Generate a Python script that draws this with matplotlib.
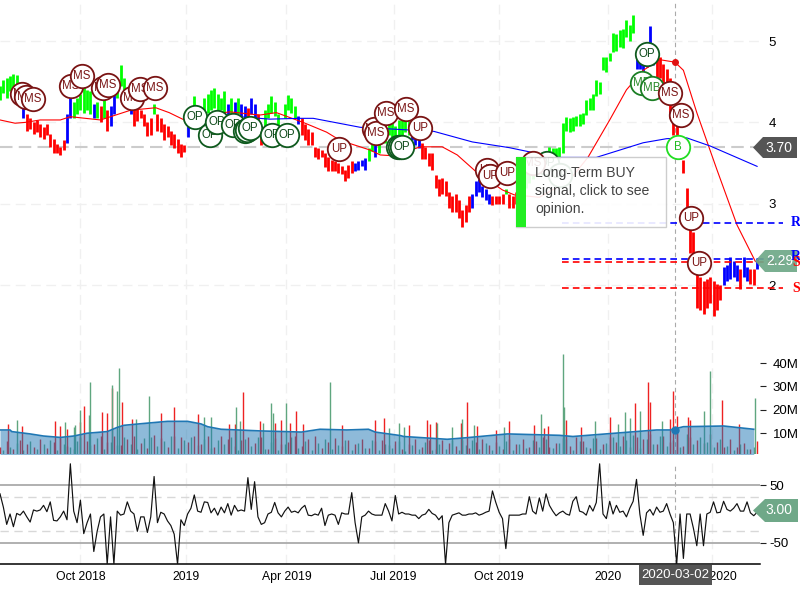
import numpy as np
import matplotlib
matplotlib.use("Agg")
import matplotlib.pyplot as plt
from matplotlib.patches import Polygon, Rectangle

plt.rcParams["font.family"] = ["Liberation Sans", "DejaVu Sans"]
plt.rcParams["axes.unicode_minus"] = False

# one price bar every 2 trading days
price_lo = [4.28,4.36,4.30,4.38,4.40,4.35,4.22,4.05,3.90,3.92,3.86,3.88,3.82,3.80,3.84,3.70,3.62,3.62,3.60,3.66,
3.75,4.05,4.05,4.10,4.15,4.12,4.15,4.10,4.05,4.05,4.00,4.05,3.90,3.95,4.10,4.30,4.45,4.40,4.30,4.10,
3.95,4.02,4.05,3.95,3.83,3.85,4.10,3.90,3.88,3.78,3.82,3.72,3.68,3.62,3.58,3.64,3.82,4.00,4.12,4.05,
4.05,4.10,4.12,4.15,4.18,4.15,4.15,4.12,4.05,4.10,4.05,4.10,4.05,4.05,3.98,4.10,4.05,3.88,3.72,3.95,
4.05,4.12,4.08,3.85,3.72,4.05,4.15,4.12,4.05,3.98,3.85,3.78,3.72,3.72,3.57,3.55,3.58,3.45,3.40,3.40,
3.40,3.38,3.36,3.28,3.32,3.38,3.40,3.42,3.46,3.42,3.52,3.65,3.58,3.62,3.78,3.75,3.85,3.82,3.80,3.85,
3.85,3.88,3.85,3.78,3.72,3.68,3.55,3.55,3.47,3.42,3.20,3.10,3.12,3.10,2.95,2.90,2.90,2.82,2.72,2.78,
2.90,2.95,3.10,3.15,3.08,3.05,3.00,2.98,3.00,3.00,3.00,3.12,2.95,2.95,3.00,3.05,3.10,3.20,3.25,3.30,
3.35,3.40,3.45,3.50,3.55,3.50,3.55,3.55,3.62,3.90,3.88,3.90,3.95,3.95,3.98,4.09,4.15,4.15,4.32,4.35,
4.64,4.62,4.75,4.86,4.88,4.93,4.92,5.05,5.00,5.10,4.65,4.65,4.62,4.68,4.70,4.70,4.55,4.55,4.45,4.35,
4.05,3.85,3.70,3.55,3.38,2.75,2.40,2.15,1.72,1.70,1.65,1.72,1.78,1.62,1.70,1.82,2.00,2.05,2.08,2.10,
2.05,1.95,2.10,2.05,2.02,2.00,2.20]
price_hi = [4.45,4.52,4.55,4.57,4.60,4.58,4.50,4.25,4.10,4.05,4.00,4.03,3.98,3.94,3.98,3.86,3.80,3.74,3.70,3.78,
4.10,4.30,4.25,4.30,4.35,4.45,4.40,4.38,4.22,4.25,4.20,4.30,4.15,4.20,4.35,4.50,4.70,4.55,4.42,4.22,
4.20,4.18,4.15,4.10,4.00,4.05,4.22,4.10,4.05,3.98,3.96,3.90,3.86,3.80,3.74,3.72,4.02,4.15,4.32,4.20,
4.18,4.30,4.35,4.40,4.42,4.35,4.30,4.38,4.22,4.30,4.25,4.30,4.22,4.20,4.18,4.30,4.22,4.10,3.95,4.15,
4.22,4.32,4.25,4.10,3.95,4.22,4.34,4.30,4.20,4.08,4.05,3.98,3.92,3.88,3.70,3.68,3.66,3.62,3.58,3.54,
3.52,3.50,3.46,3.42,3.48,3.52,3.50,3.52,3.54,3.56,3.68,3.80,3.72,3.78,3.92,3.92,4.02,4.00,3.95,4.03,
4.05,4.05,4.02,3.95,3.85,3.80,3.75,3.70,3.63,3.62,3.35,3.30,3.32,3.28,3.15,3.10,3.12,3.05,2.92,2.98,
3.10,3.12,3.28,3.30,3.22,3.18,3.12,3.10,3.10,3.10,3.12,3.18,3.12,3.10,3.15,3.20,3.30,3.40,3.45,3.50,
3.52,3.58,3.60,3.65,3.70,3.68,3.68,3.70,3.99,4.07,4.05,4.07,4.08,4.10,4.12,4.27,4.30,4.35,4.52,4.50,
4.80,4.80,4.85,5.10,5.08,5.13,5.15,5.26,5.20,5.32,4.85,4.85,4.82,4.90,5.18,4.90,4.85,4.80,4.72,4.65,
4.55,4.20,4.05,3.80,3.54,3.20,2.85,2.65,2.30,2.10,2.05,2.08,2.10,2.05,2.02,2.00,2.22,2.25,2.35,2.30,
2.25,2.20,2.35,2.22,2.20,2.20,2.34]
trend_runs = [("g",7),("b",1),("r",12),("b",2),("g",6),("b",1),("g",1),("r",1),("g",1),("r",1),("b",2),("g",4),("b",1),
("r",6),("g",1),("r",9),("b",1),("g",11),("b",1),("g",1),("b",1),("g",1),("b",2),("r",1),("b",2),("r",2),("g",5),("r",1),
("g",4),("b",1),("r",16),("b",4),("g",2),("b",1),("g",10),("b",3),("r",15),("b",6),("r",4),("g",1),("r",3),("g",35),
("b",6),("r",20),("b",5),("r",1),("b",2),("r",2),("b",1)]

sma50_bar = [0,9,15,24,36,42,60,78,93,101,110,119,137,155,165,181,195,203,221,227,235,251,264,273,285,300,307,322,340,351,364,374,384,394,403,408,416,428,440,451]
sma50 = [4.03,3.99,4.00,4.03,4.03,4.07,4.03,4.15,4.18,4.12,4.03,4.07,4.13,4.09,4.12,4.00,3.88,3.78,3.66,3.60,3.59,3.70,3.70,3.60,3.38,3.17,3.11,3.08,3.29,3.57,4.03,4.40,4.64,4.77,4.74,4.64,4.12,3.42,2.74,2.29]
sma200_bar = [143,161,179,187,215,259,282,304,332,356,384,398,410,424,452]
sma200 = [4.07,4.04,4.05,4.05,3.94,3.89,3.76,3.69,3.57,3.57,3.75,3.80,3.81,3.71,3.46]

ms_bar = [13.1,15.5,19.7,42.4,49,61.5,64.5,78.8,83.6,92.5,223.3,224.5,230.4,242.4,318.2,400,406.6]
ms_price = [4.35,4.31,4.29,4.45,4.57,4.42,4.46,4.30,4.41,4.42,3.92,3.87,4.12,4.16,3.50,4.36,4.09]
op_bar = [116.4,125.4,129.6,139,146.3,147.5,149.3,162.4,171.3,237.6,238.8,240,326.6,334.3,386.3]
op_price = [4.07,3.85,4.00,3.97,3.89,3.91,3.93,3.85,3.85,3.70,3.70,3.70,3.50,3.35,4.84]
up_bar = [202.4,250.7,290.7,292.5,302.7,412.5,417.3]
up_price = [3.67,3.93,3.42,3.34,3.38,2.83,2.27]
mb_bar = [383.3,389.3]
mb_price = [4.48,4.42]
b_bar = [404.8]
b_price = [3.70]

resist = [2.76,2.32]
support = [2.29,1.97]

# volume, millions
vol_red_bar = [5,13,33,36,40,48,50,61,64,67,73,79,96,104,118,137,140,145,155,164,168,173,177,181,204,224,229,244,255,257,260,275,279,285,296,304,319,325,327,338,347,364,379,387,388,400,402,404,411,412,431,441]
vol_red = [13.8,13.2,15,13,11.8,14.8,21.6,19,18.5,29.4,23.5,15.8,18.5,21,18,14,14,27.6,15,14.5,15.5,14.5,19.5,14,13.5,15.5,16.5,13.5,15.5,14,14.8,14.5,23.3,12.8,11.5,15,13.5,12,13,15.5,12.5,17,23,32,23.5,16,28,17.5,17,15.5,24,14]
vol_green_bar = [10,39,44,45,48,53,54,67,70,71,81,89,122,126,141,143,157,162,163,171,197,232,238,241,261,270,276,283,301,323,336,337,355,369,373,376,382,395,420,424,451]
vol_green = [15.6,14.7,12.6,13.3,19.9,17.7,32,30.7,28,37.7,16,25.8,17,17,21,15,14.5,23,18.5,23,32,12,14.5,12.5,14.3,12.5,16,13.5,12.5,18,43.7,21,15,14,19,16.5,19.5,15,19.5,36.6,25]
low_red = [4.2,6.5,3.1,7.2,5.3,4.1,7.3,3.5,6.1,7.8,4.5,3.2,8.1,6.4,5.2,8.5,6.1,8.9,4.7,7.4,8.5,5.5,3.6,9.1,7.8,4.2,8.5,8.3,6.2,8.8,5.4,8.7,3.8,8.6,7.5,4.4,6.8,8.2,5.6,8.1,
3.2,7.9,5.1,6.3,8.8,4.3,7.4,8.6,3.5,6.2,7.8,4.6,7.1,5.2,7.3,3.6,6.4,7.2,4.8,6.5,3.3,5.4,7.6,4.1,6.8,3.2,7.1,5.5,4.3,7.2,3.6,6.1,7.4,4.9,6.2,3.2,7.5,5.1,7.6,4.2,
6.7,8.1,3.8,5.9,7.7,4.5,8.2,6.4,3.5,7.8,5.3,8.4,6.2,8.7,4.1,8.2,7.4,9.6,5.2,8.8,6.1,9.9,4.6,8.3,7.2,5.5,9.4,6.3,3.8,7.5,4.2,5.8,3.2,6.6]
low_green = [2.5,4.1,5.8,2.9,6.6,3.3,5.1,7.2,2.6,5.4,3.9,6.7,2.8,4.9,7.8,3.2,6.1,4.7,8.2,5.3,3.1,7.9,8.2,4.4,6.5,8.7,3.6,7.1,8.4,4.8,7.6,3.4,6.9,5.2,8.1,2.8,7.4,4.6,8.2,3.1,
6.2,2.7,5.3,8.1,3.4,6.5,2.9,5.7,7.3,3.2,4.9,6.8,2.6,5.5,3.7,7.1,2.8,5.2,3.6,6.4,2.4,4.8,3.1,6.2,2.7,5.4,3.3,6.9,2.5,4.7,7.2,3.1,5.6,2.8,4.3,6.7,2.9,5.1,3.4,6.8,
4.2,7.6,3.5,5.9,7.3,2.8,6.4,4.1,7.7,3.2,5.7,8.1,4.3,6.9,9.2,3.6,7.4,5.2,8.8,4.5,7.1,3.8,9.6,5.4,8.2,6.1,3.9,7.5,4.6,2.9,5.3,3.2,4.1]
avg_vol_bar = [0,6,7,18,26,36,44,52,64,70,74,86,100,112,120,124,132,155,180,191,207,220,224,239,241,267,279,303,334,342,392,400,408,432,450]
avg_vol = [11.3,11.3,10.6,9.6,8.7,8.1,8.7,9.9,10.6,12.4,13.3,14.1,15.0,15.0,13.9,12.7,11.6,10.9,10.4,11.6,11.3,11.6,10.4,8.9,8.5,7.3,8.0,9.6,9.0,8.5,11.3,11.3,12.7,13.0,11.6]

# cci, one point every 2 trading days
cci = [35,12,-18,0,-22,1,-2,5,-5,-14,7,5,7,15,4,21,-11,-12,-5,5,
-10,87,5,-15,24,-34,-15,0,-65,-30,-5,0,-87,-5,-87,5,-2,0,21,5,
0,-30,-5,-5,-32,-5,65,-15,3,0,-12,-20,-35,-87,-10,-20,0,10,33,5,
3,21,20,2,10,-2,12,2,18,-2,15,5,7,5,63,8,56,-5,-18,-15,
0,3,20,2,-5,5,12,3,5,2,10,15,-2,-3,0,-2,10,-20,-2,0,
-2,-18,2,0,0,37,-15,-50,-5,-2,5,0,-2,-2,-2,18,5,-12,32,0,
3,0,0,-2,-2,-8,-2,0,8,1,-2,-10,-3,-87,-15,-2,0,2,-2,-2,
0,0,2,-2,0,3,5,40,20,3,-8,-60,-2,-2,-2,-2,0,0,30,5,
0,28,5,35,15,5,-3,2,5,0,-2,22,30,5,3,-2,15,5,20,87,
0,-8,22,0,15,3,5,-5,10,22,60,0,-37,2,8,-2,12,3,5,18,
0,-15,-87,0,-77,0,0,-25,-55,0,-55,0,3,21,2,3,22,8,5,10,
18,5,5,21,2,-3,3]

tick_bars = [48,111,171,235,298,363,425]
tick_labels = ["Oct 2018","2019","Apr 2019","Jul 2019","Oct 2019","2020","Apr 2020"]
cursor_bar = 403

fig = plt.figure(figsize=(8,6),dpi=100)
def panel(top,bottom,right=760):
    return fig.add_axes([0,1-bottom/600,right/800,(bottom-top)/600])
ax = panel(0,350)
axv = panel(350,454)
axc = panel(463,564)
over = fig.add_axes([0,0,1,1])
over.set_xlim(0,800)
over.set_ylim(600,0)
over.axis("off")
over.patch.set_alpha(0)

xmax = 760/1.675
for a in [ax,axv,axc]:
    a.set_xlim(0,xmax)
    a.set_xticks(tick_bars)
    a.grid(True,axis="x",color="#f0f0f0",lw=1,ls=(0,(7,4)))
    a.set_axisbelow(True)
    a.yaxis.tick_right()
    for s in a.spines.values():
        s.set_visible(False)
    a.axvline(cursor_bar,color="#aaaaaa",lw=0.8,ls=(0,(4,3)),zorder=1.5)
    a.tick_params(axis="x",length=0,labelbottom=False)

# price panel
ax.set_ylim(5-(350-41)/81.4,5+41/81.4)
ax.set_yticks([2,3,4,5])
ax.tick_params(axis="y",length=0,pad=6,labelsize=9.5)
ax.grid(True,axis="y",color="#f0f0f0",lw=1,ls=(0,(7,4)))
ax.axhline(3.70,color="#cccccc",lw=1.5,ls=(0,(6,3)),zorder=1.2)

trend = np.repeat([r[0] for r in trend_runs],[r[1] for r in trend_runs])
bar_x = np.arange(len(price_lo))*2
colors = {"g":"#00ff00","r":"#ff0000","b":"#0000ff"}
for k,c in colors.items():
    m = trend==k
    ax.vlines(bar_x[m],np.array(price_lo)[m],np.array(price_hi)[m],color=c,lw=2.0,zorder=2)
ax.plot(sma50_bar,sma50,color="#ff0000",lw=0.8,zorder=3)
ax.plot(sma200_bar,sma200,color="#0000ff",lw=0.8,zorder=3)
ax.plot([cursor_bar],[4.74],"o",color="#e01010",ms=4,zorder=3)

for v in resist:
    ax.plot([335.5,467.5],[v,v],color="#0000ff",lw=1.2,ls=(0,(4,2.5)),clip_on=False,zorder=3)
for v in support:
    ax.plot([335.5,467.5],[v,v],color="#ff0000",lw=1.2,ls=(0,(4,2.5)),clip_on=False,zorder=3)

def signals(xs,ys,label,edge,txt,z=4):
    for i,(x,y) in enumerate(zip(xs,ys)):
        ax.scatter([x],[y],s=285,facecolor="white",edgecolor=edge,lw=1.3,zorder=z+i*0.01)
        ax.text(x,y,label,color=txt,fontsize=8.3,ha="center",va="center",zorder=z+i*0.01+0.005)
signals(op_bar,op_price,"OP","#0f5a1e","#0f4a1a",4)
signals(ms_bar,ms_price,"MS","#7a1414","#7a1414",5)
signals(up_bar,up_price,"UP","#7a1414","#7a1414",6)
signals(mb_bar,mb_price,"MB","#1b7f24","#2a8a2a",4.5)
signals(b_bar,b_price,"B","#22dd22","#22bb22",6.5)

# volume panel
axv.set_ylim((456.3-454)/2.33,(456.3-350)/2.33)
axv.set_yticks([10,20,30,40])
axv.set_yticklabels(["10M","20M","30M","40M"])
axv.tick_params(axis="y",length=4,pad=5,labelsize=9.5,color="#222222")
low_red_x = np.arange(len(low_red))*4
low_green_x = np.arange(len(low_green))*4+2
axv.vlines(low_red_x,0,low_red,color="#ee2222",lw=1,zorder=2)
axv.vlines(low_green_x,0,low_green,color="#5fa67f",lw=1,zorder=2)
axv.vlines(vol_red_bar,0,vol_red,color="#ee2222",lw=1,zorder=2)
axv.vlines(vol_green_bar,0,vol_green,color="#5fa67f",lw=1,zorder=2)
axv.fill_between(avg_vol_bar,0,avg_vol,color="#1f77b4",alpha=0.5,lw=0,zorder=3)
axv.plot(avg_vol_bar,avg_vol,color="#1f77b4",lw=1.2,zorder=4)
axv.plot([cursor_bar],[11.3],"o",color="#1f77b4",ms=5,zorder=5)

# cci panel
axc.set_ylim((514-564)/0.577,(514-463)/0.577)
axc.set_yticks([-50,50])
axc.tick_params(axis="y",length=4,pad=3,labelsize=9.5,color="#222222")
axc.axhline(50,color="#b0b0b0",lw=1.4,zorder=1.2)
axc.axhline(-50,color="#b0b0b0",lw=1.4,zorder=1.2)
axc.axhline(30,color="#d8d8d8",lw=1,ls=(0,(6,4)),zorder=1.2)
axc.axhline(-30,color="#d8d8d8",lw=1,ls=(0,(6,4)),zorder=1.2)
axc.plot(np.arange(len(cci))*2,cci,color="#111111",lw=0.85,zorder=3)
axc.spines["bottom"].set_visible(True)
axc.spines["bottom"].set_linewidth(1.1)
axc.set_xticklabels(tick_labels)
axc.tick_params(axis="x",labelbottom=True,labelsize=8.8,pad=5,length=0)

# tooltip, tags and level letters sit on top, in figure pixels
over.add_patch(Rectangle((516,157),150,70,facecolor="white",edgecolor="#c8c8c8",lw=1,alpha=0.9))
over.add_patch(Rectangle((516,157),10,70,facecolor="#22ee22",edgecolor="none"))
over.text(535,191,"Long-Term BUY\nsignal, click to see\nopinion.",fontsize=10.1,color="#444444",va="center",linespacing=1.38)

over.add_patch(Polygon([[753,147.5],[763,137],[797,137],[797,158],[763,158]],facecolor="#555555",edgecolor="none"))
over.text(779,147.5,"3.70",color="white",fontsize=10,ha="center",va="center")
over.add_patch(Polygon([[755,261],[765,250],[797,250],[797,272],[765,272]],facecolor="#6fa888",edgecolor="none",alpha=0.92))
over.text(780,261,"2.29",color="white",fontsize=10,ha="center",va="center")
for lab,y,c in [("R",223,"#0000ff"),("R",257,"#0000ff"),("S",262,"#ff0000"),("S",288,"#ff0000")]:
    over.text(796,y,lab,color=c,fontsize=10,fontweight="bold",family="Liberation Serif",ha="center",va="center")
over.add_patch(Polygon([[753,510.5],[765,499],[798,499],[798,522],[765,522]],facecolor="#6fa888",edgecolor="none"))
over.text(779,510.5,"3.00",color="white",fontsize=10,ha="center",va="center")
over.add_patch(Rectangle((639,565),73,20,facecolor="#555555",edgecolor="none"))
over.text(675.5,575,"2020-03-02",color="white",fontsize=9.5,ha="center",va="center")

fig.savefig("out.png",dpi=100)
